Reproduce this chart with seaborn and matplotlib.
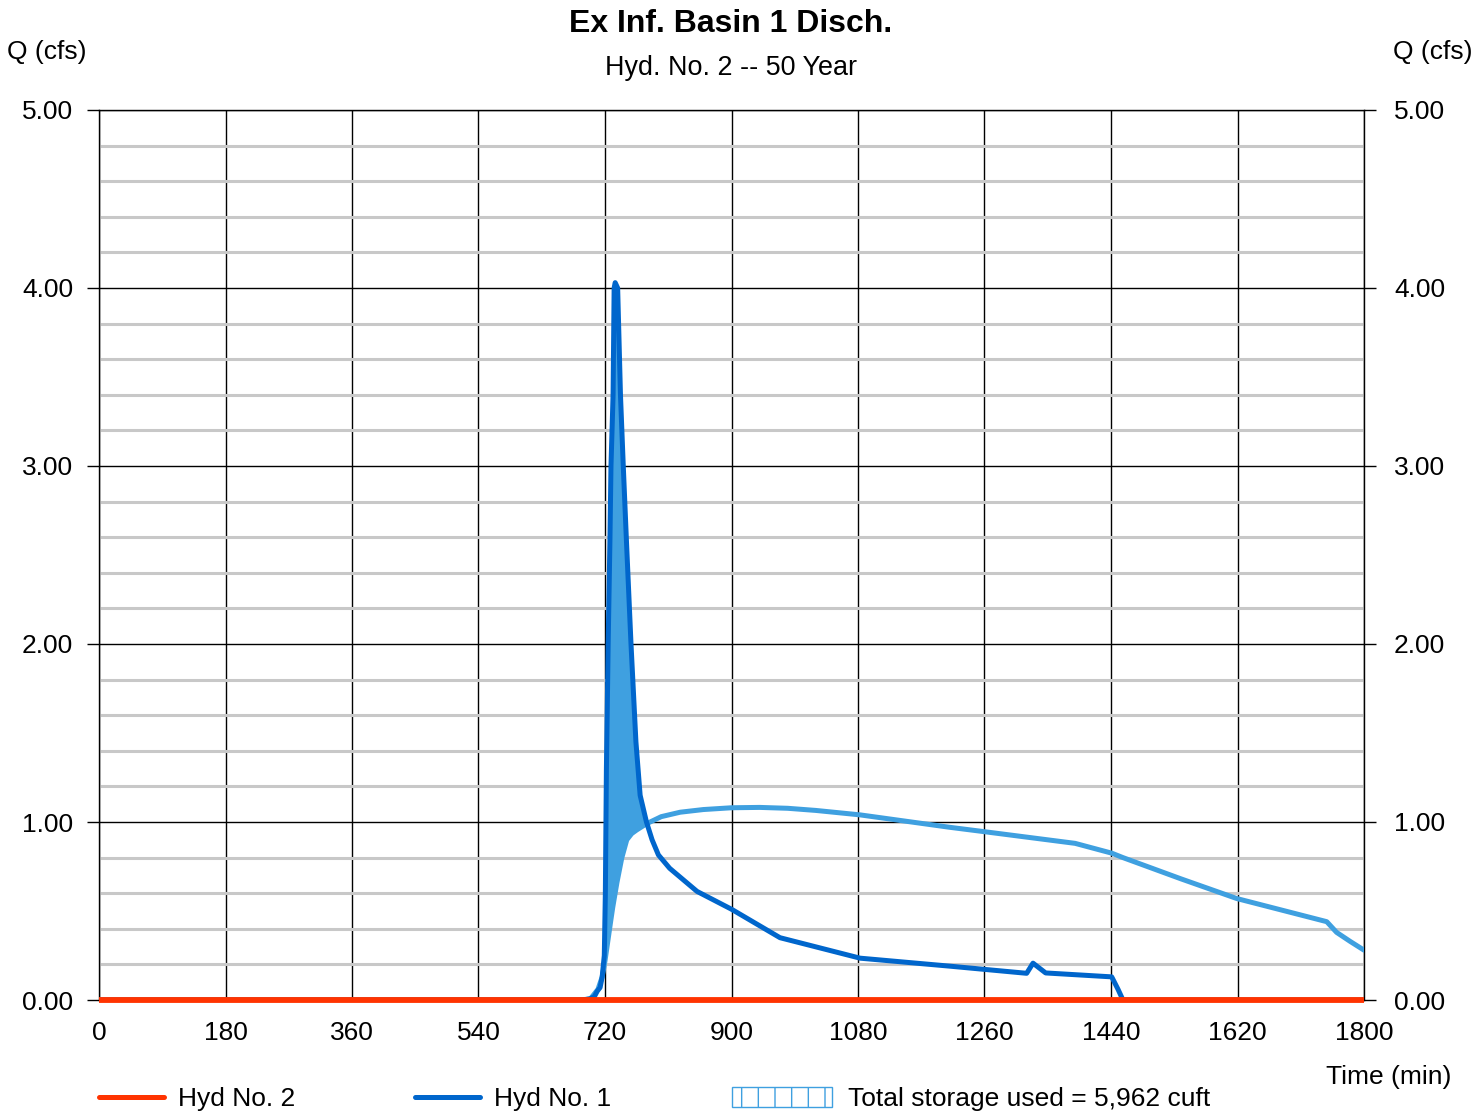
import matplotlib
matplotlib.use("Agg")
import matplotlib.pyplot as plt
from matplotlib.lines import Line2D
from matplotlib.patches import Rectangle
from matplotlib.ticker import MultipleLocator, FormatStrFormatter
import numpy as np
import seaborn as sns

sns.set_style("white")
plt.rcParams["font.family"] = ["Liberation Sans", "DejaVu Sans"]
plt.rcParams["text.color"] = "black"
plt.rcParams["xtick.color"] = "black"
plt.rcParams["ytick.color"] = "black"

# Hyd No. 1 (inflow), time in min, Q in cfs
t_hyd1 = [0, 682, 698, 705, 709, 713, 716, 719, 720.5, 722, 724.5, 727, 728.5,
          731.5, 733, 734.5, 738, 742, 746, 750.5, 757, 764, 770, 779, 787,
          796, 812, 830, 851, 900, 969, 1083, 1211, 1320, 1329, 1347, 1441,
          1450, 1457, 1800]
q_hyd1 = [0, 0, 0.005, 0.02, 0.05, 0.07, 0.13, 0.25, 0.6, 1.3, 2.0, 2.58, 3.0,
          3.4, 4.0, 4.03, 4.0, 3.4, 3.0, 2.58, 2.0, 1.45, 1.15, 1.0, 0.9,
          0.815, 0.74, 0.68, 0.61, 0.51, 0.35, 0.235, 0.19, 0.15, 0.207, 0.152,
          0.13, 0.06, 0.0, 0.0]

# outflow curve bounding the storage area
t_out = [0, 690, 700, 710, 716, 720, 724, 728, 731, 737, 744, 751, 758, 765,
         779, 800, 827, 860, 900, 940, 980, 1020, 1083, 1211, 1261, 1389, 1441,
         1457, 1540, 1619, 1747, 1761, 1780, 1800]
q_out = [0, 0, 0.01, 0.06, 0.13, 0.22, 0.33, 0.44, 0.52, 0.66, 0.80, 0.90,
         0.935, 0.955, 0.99, 1.03, 1.055, 1.07, 1.08, 1.082, 1.077, 1.065,
         1.04, 0.97, 0.945, 0.88, 0.825, 0.80, 0.68, 0.57, 0.44, 0.38, 0.33,
         0.28]

# Hyd No. 2 (discharge) stays at zero
t_hyd2 = [0, 1800]
q_hyd2 = [0, 0]

x_ticks = list(range(0, 1801, 180))
storage_label = "Total storage used = 5,962 cuft"

DARK = "#0066CC"
LIGHT = "#3FA0E0"
RED = "#FF3300"

fig = plt.figure(figsize=(14.73, 11.12), dpi=100)
ax = fig.add_axes([99 / 1473, 1 - 1000 / 1112, 1265 / 1473, 890 / 1112])

# storage area between inflow and outflow
grid_t = np.union1d(t_hyd1, t_out)
q1_i = np.interp(grid_t, t_hyd1, q_hyd1)
q2_i = np.interp(grid_t, t_out, q_out)
ax.fill_between(grid_t, q2_i, q1_i, where=q1_i > q2_i, interpolate=True,
                color=LIGHT, lw=0, zorder=3)

sns.lineplot(x=t_out, y=q_out, ax=ax, color=LIGHT, linewidth=3.6, zorder=4)
sns.lineplot(x=t_hyd1, y=q_hyd1, ax=ax, color=DARK, linewidth=3.6, zorder=5)
l2 = sns.lineplot(x=t_hyd2, y=q_hyd2, ax=ax, color=RED, linewidth=4.2, zorder=6)
l2.lines[-1].set_clip_on(False)
l2.lines[-1].set_solid_capstyle("butt")

ax.set_xlim(0, 1800)
ax.set_ylim(0, 5)
ax.set_xticks(x_ticks)
ax.yaxis.set_major_locator(MultipleLocator(1))
ax.yaxis.set_minor_locator(MultipleLocator(0.2))
ax.yaxis.set_major_formatter(FormatStrFormatter("%.2f"))
ax.grid(which="minor", axis="y", color="#C8C8C8", lw=2.2, zorder=1)
ax.grid(which="major", axis="both", color="black", lw=1.0, zorder=2)
ax.set_axisbelow(True)
ax.set_xlabel("")
ax.set_ylabel("")
for s in ax.spines.values():
    s.set_color("black")
    s.set_linewidth(1.0)

ax.tick_params(axis="x", which="both", length=0, labelsize=19, pad=15)
ax.tick_params(axis="y", which="major", direction="out", length=8.6, width=1,
               left=True, labelsize=19, pad=10)
ax.tick_params(axis="y", which="minor", length=0)

ax2 = ax.twinx()
ax2.set_ylim(0, 5)
ax2.yaxis.set_major_locator(MultipleLocator(1))
ax2.yaxis.set_major_formatter(FormatStrFormatter("%.2f"))
ax2.tick_params(axis="y", direction="out", length=8.6, width=1,
                labelsize=19, pad=13)
for s in ax2.spines.values():
    s.set_visible(False)

fig.text(731 / 1473, 1 - 24 / 1112, "Ex Inf. Basin 1 Disch.", ha="center",
         va="center", fontsize=23, fontweight="bold")
fig.text(731 / 1473, 1 - 68 / 1112, "Hyd. No. 2 -- 50 Year", ha="center",
         va="center", fontsize=19.4)
fig.text(47 / 1473, 1 - 52 / 1112, "Q (cfs)", ha="center", va="center",
         fontsize=19)
fig.text(1433 / 1473, 1 - 52 / 1112, "Q (cfs)", ha="center", va="center",
         fontsize=19)
fig.text(1389 / 1473, 1 - 1077 / 1112, "Time (min)", ha="center",
         va="center", fontsize=19)

# legend along the bottom
ly = 1 - 1097 / 1112
ty = 1 - 1099 / 1112
fig.add_artist(Line2D([99 / 1473, 164 / 1473], [ly, ly], color=RED, lw=3.6,
                      transform=fig.transFigure))
fig.text(178 / 1473, ty, "Hyd No. 2", ha="left", va="center", fontsize=19)
fig.add_artist(Line2D([415 / 1473, 480 / 1473], [ly, ly], color=DARK, lw=3.6,
                      transform=fig.transFigure))
fig.text(494 / 1473, ty, "Hyd No. 1", ha="left", va="center", fontsize=19)
fig.add_artist(Rectangle((732 / 1473, 1 - 1107 / 1112), 100 / 1473, 20 / 1112,
                         transform=fig.transFigure, facecolor="white",
                         edgecolor=LIGHT, hatch="|", lw=1.0))
fig.text(848 / 1473, ty, storage_label, ha="left", va="center", fontsize=19)

fig.savefig("out.png", dpi=100)
